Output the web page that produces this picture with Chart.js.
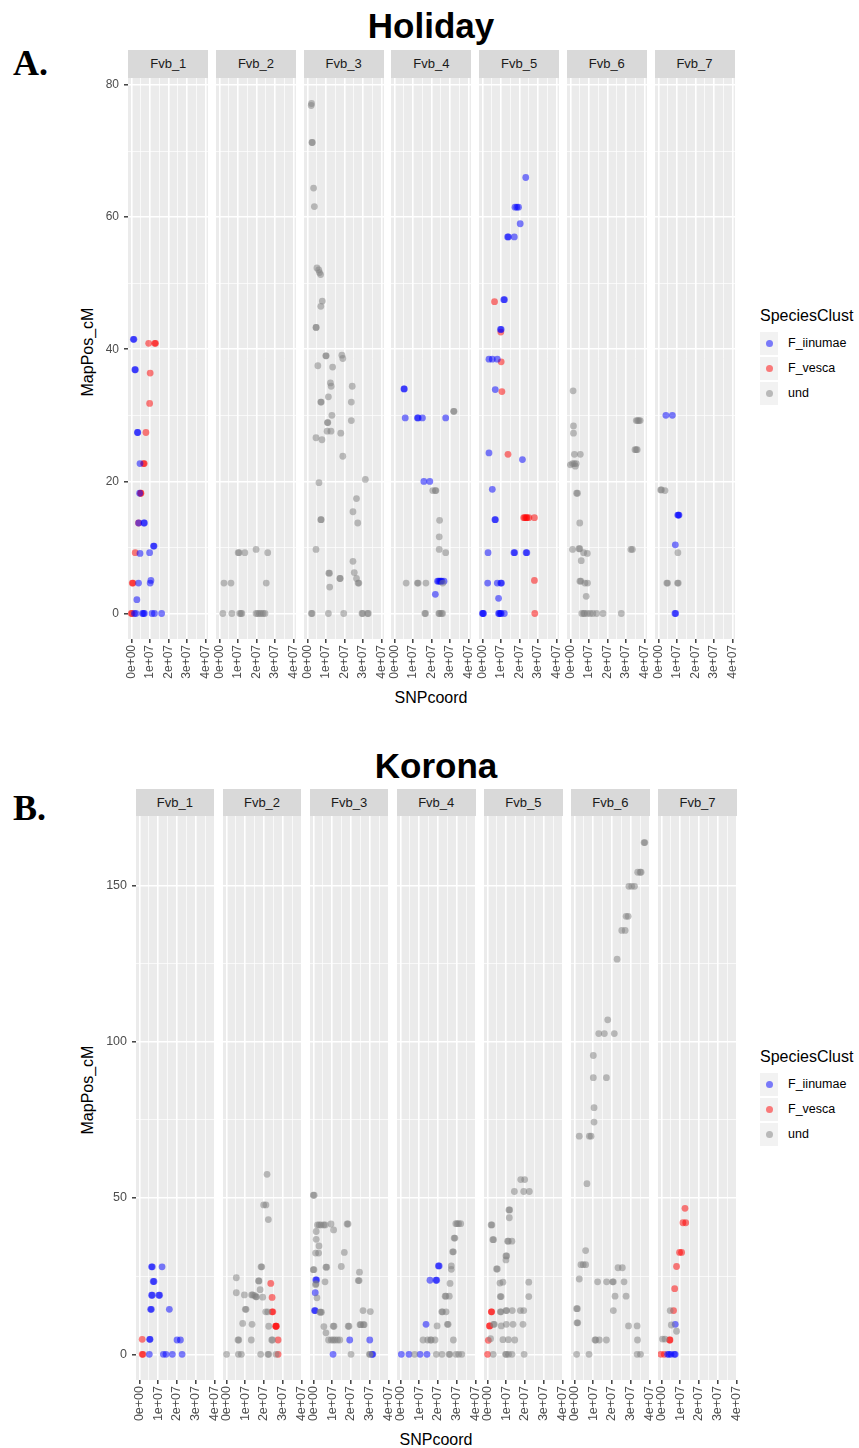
<!DOCTYPE html>
<html>
<head>
<meta charset="utf-8">
<script src="https://cdn.jsdelivr.net/npm/chart.js@4.4.0/dist/chart.umd.min.js"></script>
<style>
  body { margin: 0; background: #fff; width: 859px; height: 1448px; position: relative; overflow: hidden;
         font-family: "Liberation Sans", Arial, sans-serif; }
  canvas { position: absolute; }
  .txt { position: absolute; white-space: nowrap; line-height: 1; }
  .strip { position: absolute; background: #D9D9D9; color: #1A1A1A; font-size: 13px;
           display: flex; align-items: center; justify-content: center; }
  .title { font-weight: bold; font-size: 35px; color: #000; text-align: center; width: 300px; }
  .tag { font-family: "Liberation Serif", "Times New Roman", serif; font-weight: bold; font-size: 36px; }
  .axt { font-size: 16px; color: #000; text-align: center; width: 200px; }
  .key { position: absolute; background: #F2F2F2; width: 18px; height: 23px; }
  .dot { position: absolute; width: 7px; height: 7px; border-radius: 50%; left: 5.5px; top: 8px; }
  .ltxt { font-size: 12.5px; color: #000; }
</style>
</head>
<body>
<script>
const chromosomes = ["Fvb_1", "Fvb_2", "Fvb_3", "Fvb_4", "Fvb_5", "Fvb_6", "Fvb_7"];
const speciesNames = ["F_iinumae", "F_vesca", "und"];
const speciesColors = ["rgba(0,0,255,0.5)", "rgba(255,0,0,0.5)", "rgba(128,128,128,0.5)"];
const xTickValues = [0, 1e7, 2e7, 3e7, 4e7];
const xGridValues = [0, 5e6, 1e7, 1.5e7, 2e7, 2.5e7, 3e7, 3.5e7, 4e7];
const holidayYTicks = [0, 20, 40, 60, 80];
const holidayYGrid = [0, 10, 20, 30, 40, 50, 60, 70, 80];
const koronaYTicks = [0, 50, 100, 150];
const koronaYGrid = [0, 25, 50, 75, 100, 125, 150];

// [chromosome, SNP coordinate in Mb, MapPos_cM]
const holidayIinumae = [
  [1,0.9,41.5],[1,1.2,41.5],[1,1.7,36.9],[1,2.0,36.9],[1,3.1,27.4],[1,3.3,27.4],[1,4.5,22.7],[1,4.3,18.2],
  [1,3.8,13.7],[1,6.6,13.7],[1,6.9,13.7],[1,4.5,9.1],[1,9.7,9.2],[1,11.8,10.2],[1,12.1,10.2],[1,3.7,4.6],
  [1,10.4,5.0],[1,10.0,4.6],[1,2.8,2.1],[1,1.5,0],[1,2.3,0],[1,5.8,0],[1,6.4,0],[1,6.9,0],[1,11.0,0],
  [1,12.3,0],[1,16.2,0],
  [4,5.0,34.0],[4,5.2,34.0],[4,5.7,29.6],[4,12.3,29.6],[4,12.7,29.6],[4,15.0,29.6],[4,27.6,29.6],
  [4,15.8,20.0],[4,19.0,20.0],[4,23.2,4.9],[4,23.8,4.9],[4,24.5,4.9],[4,25.0,4.9],[4,25.5,4.9],[4,26.7,4.9],
  [4,22.0,2.9],
  [5,23.3,66.0],[5,17.5,61.5],[5,18.5,61.5],[5,19.4,61.5],[5,20.3,59.0],[5,13.5,57.0],[5,13.9,57.0],
  [5,17.1,57.0],[5,11.4,47.5],[5,11.8,47.5],[5,9.6,43.0],[5,10.0,43.0],[5,3.4,38.5],[5,5.2,38.5],
  [5,7.9,38.5],[5,6.8,33.9],[5,3.4,24.3],[5,21.5,23.3],[5,5.2,18.8],[5,6.6,14.2],[5,6.9,14.2],[5,2.9,9.2],
  [5,16.9,9.2],[5,17.3,9.2],[5,23.5,9.2],[5,23.9,9.2],[5,2.7,4.6],[5,7.9,4.6],[5,9.8,4.6],[5,10.2,4.6],
  [5,8.6,2.3],[5,-0.2,0],[5,0.2,0],[5,0.4,0],[5,8.6,0],[5,9.0,0],[5,9.6,0],[5,10.0,0],[5,11.7,0],
  [7,3.9,30.0],[7,7.4,30.0],[7,10.3,14.9],[7,10.7,14.9],[7,11.0,14.9],[7,9.0,10.4],[7,8.8,0],[7,9.2,0]
];
const holidayVesca = [
  [1,9.2,40.9],[1,12.5,40.9],[1,12.9,40.9],[1,10.0,36.4],[1,9.7,31.8],[1,7.7,27.4],[1,6.4,22.7],[1,6.8,22.7],
  [1,4.8,18.2],[1,5.0,18.2],[1,3.7,13.7],[1,1.9,9.2],[1,0.7,4.6],[1,0.3,4.6],[1,-0.3,0],[1,0.2,0],
  [5,6.4,47.2],[5,9.8,42.6],[5,10.0,38.1],[5,10.4,33.6],[5,13.7,24.1],[5,22.2,14.5],[5,22.8,14.5],
  [5,23.5,14.5],[5,24.0,14.5],[5,25.0,14.5],[5,28.0,14.5],[5,28.0,5.0],[5,28.2,0]
];
const holidayUnd = [
  [2,10.0,9.2],[2,10.5,9.2],[2,13.6,9.2],[2,19.7,9.7],[2,26.0,9.2],[2,2.3,4.6],[2,6.1,4.6],[2,25.2,4.6],
  [2,1.7,0],[2,6.6,0],[2,10.8,0],[2,11.5,0],[2,12.0,0],[2,19.7,0],[2,20.5,0],[2,21.5,0],[2,22.5,0],
  [2,23.5,0],[2,24.5,0],
  [3,1.9,76.9],[3,2.1,77.2],[3,2.3,71.3],[3,2.5,71.3],[3,3.2,64.4],[3,3.6,61.6],[3,5.0,52.3],[3,6.0,52.0],
  [3,6.4,51.6],[3,7.0,51.3],[3,7.9,47.3],[3,7.1,46.5],[3,4.5,43.3],[3,4.6,43.3],[3,9.8,39.0],[3,10.0,39.0],
  [3,18.5,39.1],[3,19.0,38.6],[3,5.5,37.5],[3,13.5,37.3],[3,12.3,34.9],[3,12.7,34.4],[3,24.1,34.4],
  [3,11.2,32.8],[3,7.1,32.0],[3,7.3,32.0],[3,23.6,32.0],[3,13.1,30.0],[3,10.7,28.9],[3,10.9,28.9],
  [3,23.6,29.2],[3,10.5,27.6],[3,12.6,27.6],[3,17.9,27.3],[3,4.5,26.6],[3,7.7,26.3],[3,19.0,23.8],
  [3,6.1,19.8],[3,31.2,20.3],[3,26.4,17.4],[3,24.5,15.4],[3,27.1,13.7],[3,7.1,14.2],[3,7.3,14.2],
  [3,4.5,9.7],[3,24.5,7.9],[3,11.4,6.1],[3,11.8,6.1],[3,25.2,6.2],[3,17.4,5.3],[3,17.6,5.3],[3,26.4,5.3],
  [3,27.3,4.6],[3,27.7,4.6],[3,11.9,4.0],[3,2.0,0],[3,2.4,0],[3,11.2,0],[3,19.5,0],[3,29.4,0],[3,29.8,0],
  [3,32.4,0],[3,32.8,0],
  [4,31.9,30.6],[4,32.1,30.6],[4,20.6,18.6],[4,22.0,18.6],[4,22.3,18.6],[4,24.3,14.1],[4,24.1,11.6],
  [4,24.1,9.7],[4,27.6,9.2],[4,6.2,4.6],[4,12.3,4.6],[4,12.7,4.6],[4,16.9,4.6],[4,26.0,4.6],[4,16.3,0],
  [4,16.7,0],[4,23.9,0],[4,24.3,0],[4,25.3,0],[4,25.9,0],
  [6,1.3,33.7],[6,35.5,29.2],[6,36.2,29.2],[6,36.9,29.2],[6,37.6,29.2],[6,1.5,28.4],[6,1.5,27.3],
  [6,34.8,24.8],[6,35.4,24.8],[6,36.0,24.8],[6,2.0,24.1],[6,5.2,24.1],[6,-0.2,22.5],[6,1.0,22.7],
  [6,2.0,22.7],[6,2.5,22.3],[6,3.0,22.7],[6,3.2,18.2],[6,3.7,18.2],[6,4.9,13.7],[6,1.0,9.7],[6,4.5,9.8],
  [6,4.9,9.8],[6,7.0,9.2],[6,9.0,9.1],[6,5.7,8.0],[6,32.6,9.7],[6,33.4,9.7],[6,5.0,4.9],[6,5.5,4.9],
  [6,7.7,4.6],[6,9.1,4.6],[6,8.4,2.6],[6,6.0,0],[6,7.0,0],[6,7.5,0],[6,9.0,0],[6,10.5,0],[6,12.0,0],
  [6,14.0,0],[6,17.5,0],[6,27.4,0],
  [7,1.1,18.7],[7,1.5,18.7],[7,3.4,18.6],[7,10.4,9.2],[7,4.4,4.6],[7,4.8,4.6],[7,10.2,4.6],[7,10.6,4.6]
];

const koronaIinumae = [
  [1,5.4,4.8],[1,5.6,4.8],[1,5.2,0],[1,6.4,28.0],[1,6.8,28.0],[1,12.0,28.0],[1,7.3,23.3],[1,7.7,23.3],
  [1,6.4,18.9],[1,6.8,18.9],[1,10.3,18.9],[1,10.7,18.9],[1,5.9,14.4],[1,6.3,14.4],[1,15.9,14.4],
  [1,20.0,4.6],[1,21.8,4.6],[1,12.7,0],[1,14.1,0],[1,17.5,0],[1,22.7,0],
  [3,1.2,23.8],[3,1.6,23.8],[3,0.9,19.7],[3,0.5,14.0],[3,0.9,14.0],[3,19.3,4.6],[3,30.0,4.6],[3,10.4,0],
  [3,31.2,0],[3,31.6,0],
  [4,0.4,0],[4,4.5,0],[4,10.4,0],[4,14.1,0],[4,13.6,9.6],[4,15.7,23.7],[4,18.9,23.7],[4,19.3,23.7],
  [4,20.2,28.3],[4,20.6,28.3],
  [7,7.3,9.6],[7,3.2,0],[7,4.0,0],[7,5.0,0],[7,6.8,0],[7,7.3,0]
];
const koronaVesca = [
  [1,1.4,4.8],[1,1.4,0],[1,1.8,0],
  [2,23.6,22.7],[2,24.3,18.2],[2,24.3,13.6],[2,24.7,13.6],[2,26.2,9.0],[2,26.6,9.0],[2,26.4,9.0],
  [2,27.5,4.6],[2,27.5,0],
  [5,0.0,0],[5,0.4,4.5],[5,1.0,9.1],[5,1.2,9.1],[5,2.0,13.6],[5,2.2,13.6],
  [7,12.5,46.7],[7,11.4,42.1],[7,12.9,42.1],[7,9.6,32.6],[7,10.7,32.6],[7,8.0,28.1],[7,7.0,21.0],
  [7,6.4,14.0],[7,4.3,4.6],[7,4.5,4.6],[7,-0.4,0],[7,1.4,0]
];
const koronaUnd = [
  [2,21.6,57.6],[2,19.8,47.8],[2,21.0,47.8],[2,22.3,43.1],[2,18.4,28.0],[2,18.8,28.0],[2,5.2,24.5],
  [2,17.1,23.5],[2,17.3,23.5],[2,17.9,20.7],[2,5.2,19.7],[2,9.5,19.0],[2,13.4,19.0],[2,14.0,19.0],
  [2,15.0,18.8],[2,15.6,18.4],[2,16.0,18.4],[2,19.3,18.3],[2,10.0,14.4],[2,10.4,14.4],[2,20.9,13.6],
  [2,22.0,13.6],[2,8.6,9.9],[2,13.6,9.6],[2,22.5,9.0],[2,6.1,4.6],[2,6.5,4.6],[2,13.2,4.6],[2,24.1,4.6],
  [2,24.5,4.6],[2,0.0,0],[2,6.3,0],[2,7.9,0],[2,18.2,0],[2,22.1,0],[2,22.5,0],[2,26.4,0],
  [3,-0.2,50.9],[3,0.3,50.9],[3,2.1,41.4],[3,3.0,41.4],[3,4.0,41.4],[3,5.4,41.4],[3,6.2,41.4],[3,9.3,41.7],
  [3,10.7,39.8],[3,17.9,41.7],[3,18.4,41.7],[3,1.4,39.3],[3,1.4,36.8],[3,2.9,34.7],[3,1.1,32.4],
  [3,2.7,32.4],[3,16.4,32.6],[3,14.8,28.1],[3,6.6,27.9],[3,7.0,27.9],[3,-0.2,27.1],[3,0.2,27.1],
  [3,24.5,26.3],[3,23.9,23.6],[3,24.3,23.6],[3,1.1,22.3],[3,1.3,22.6],[3,6.1,23.2],[3,1.8,18.1],
  [3,3.4,13.5],[3,3.8,13.5],[3,4.2,13.5],[3,26.4,14.0],[3,30.3,13.7],[3,24.8,9.5],[3,25.2,9.5],
  [3,26.6,9.5],[3,27.0,9.5],[3,5.5,8.9],[3,10.5,9.0],[3,10.9,9.0],[3,18.5,9.0],[3,18.9,9.0],[3,6.6,6.9],
  [3,8.0,4.6],[3,9.5,4.6],[3,10.5,4.6],[3,11.5,4.6],[3,12.8,4.6],[3,14.0,4.6],[3,20.0,0],[3,29.8,0],
  [3,30.2,0],
  [4,7.5,0],[4,19.1,0],[4,22.1,0],[4,25.9,0],[4,26.3,0],[4,29.6,0],[4,31.0,0],[4,32.7,0],[4,12.0,4.6],
  [4,14.5,4.6],[4,16.0,4.6],[4,16.4,4.6],[4,18.4,4.6],[4,28.2,4.6],[4,19.5,9.1],[4,25.0,9.6],[4,25.4,9.6],
  [4,22.0,13.6],[4,22.4,13.6],[4,24.3,13.6],[4,23.8,18.6],[4,24.2,18.6],[4,26.0,18.6],[4,26.4,22.7],
  [4,27.1,28.3],[4,27.1,27.2],[4,27.8,32.8],[4,28.2,32.8],[4,28.6,37.2],[4,29.0,37.2],[4,29.5,41.8],
  [4,30.2,41.8],[4,31.0,41.8],[4,32.1,41.8],
  [5,3.0,0],[5,9.6,0],[5,10.0,0],[5,11.2,0],[5,13.0,0],[5,19.5,0],[5,1.6,5.0],[5,8.2,4.7],[5,11.1,4.7],
  [5,14.5,4.6],[5,3.2,9.6],[5,3.6,9.6],[5,7.3,9.1],[5,10.0,9.6],[5,13.6,9.6],[5,18.9,9.6],[5,6.8,13.6],
  [5,7.2,13.6],[5,9.8,14.0],[5,10.2,14.0],[5,13.2,14.0],[5,17.5,14.0],[5,19.3,14.0],[5,22.0,18.5],
  [5,6.8,18.5],[5,7.2,18.5],[5,6.6,22.8],[5,8.2,23.1],[5,22.0,23.1],[5,4.8,27.3],[5,5.2,27.3],[5,9.8,31.5],
  [5,10.2,31.5],[5,9.8,30.2],[5,10.7,36.2],[5,11.1,36.2],[5,13.0,36.2],[5,2.8,36.7],[5,3.2,36.7],
  [5,1.9,41.4],[5,2.3,41.4],[5,11.6,43.7],[5,11.4,46.2],[5,11.8,46.2],[5,14.3,52.1],[5,19.3,52.1],
  [5,22.3,52.1],[5,17.7,55.9],[5,19.8,55.9],
  [6,37.1,163.7],[6,37.5,163.7],[6,33.7,154.2],[6,35.0,154.2],[6,35.5,154.2],[6,29.0,149.7],[6,30.5,149.7],
  [6,32.0,149.7],[6,27.5,140.1],[6,28.6,140.1],[6,25.2,135.6],[6,27.0,135.6],[6,22.7,126.4],[6,17.7,107.0],
  [6,12.9,102.6],[6,15.9,102.6],[6,21.2,102.6],[6,10.0,95.6],[6,10.0,88.5],[6,17.0,88.5],[6,10.4,78.9],
  [6,10.4,74.3],[6,2.5,69.8],[6,7.9,69.8],[6,8.8,69.8],[6,6.6,54.6],[6,5.9,33.2],[6,3.4,28.7],[6,4.6,28.7],
  [6,5.9,28.7],[6,2.5,24.1],[6,12.3,23.2],[6,17.1,23.2],[6,20.3,23.2],[6,20.7,23.2],[6,26.4,23.2],
  [6,23.2,27.7],[6,25.5,27.7],[6,21.6,18.6],[6,27.5,18.6],[6,20.7,14.0],[6,1.1,14.6],[6,1.5,14.6],
  [6,1.3,10.1],[6,1.7,10.1],[6,28.8,9.1],[6,33.4,9.1],[6,10.9,4.6],[6,11.3,4.6],[6,13.2,4.6],[6,17.0,4.6],
  [6,33.6,4.6],[6,1.1,0],[6,7.7,0],[6,33.4,0],[6,35.2,0],
  [7,4.6,14.0],[7,5.2,9.4],[7,8.0,7.4],[7,0.5,4.9],[7,1.8,4.9]
];

const FONT = '"Liberation Sans", Arial, sans-serif';

const plots = [
  { title: "Holiday", tag: "A.", iin: holidayIinumae, ves: holidayVesca, und: holidayUnd,
    yTicks: holidayYTicks, yGrid: holidayYGrid, yMin: -3.86, yMax: 81.06, xMin: -2.0e6, xMax: 4.13e7,
    left: 128.3, spacing: 87.7, w: 80, top: 77.7, h: 561.4, stripTop: 50, stripH: 27.7, yAxisW: 30,
    tickFont: 12, titleY: 8.4, tagY: 45, xTitleY: 690, yTitleY: 352, legendY: 308 },
  { title: "Korona", tag: "B.", iin: koronaIinumae, ves: koronaVesca, und: koronaUnd,
    yTicks: koronaYTicks, yGrid: koronaYGrid, yMin: -8.2, yMax: 172.2, xMin: -1.9e6, xMax: 4.01e7,
    left: 135.6, spacing: 87.1, w: 78.7, top: 816, h: 564, stripTop: 789.3, stripH: 26.7, yAxisW: 36,
    tickFont: 12.5, titleY: 747.5, tagY: 790, xTitleY: 1432, yTitleY: 1090, legendY: 1049 }
];

function sci(v) {
  if (v === 0) return "0e+00";
  const e = Math.floor(Math.log10(v) + 1e-9);
  const m = Math.round(v / Math.pow(10, e));
  return m + "e+" + (e < 10 ? "0" : "") + e;
}

const panelBg = {
  id: "panelBg",
  beforeDraw(chart) {
    const { ctx, chartArea: a } = chart;
    ctx.save();
    ctx.fillStyle = "#EBEBEB";
    ctx.fillRect(a.left, a.top, a.right - a.left, a.bottom - a.top);
    ctx.restore();
  }
};

function addText(cls, text, left, top, extra) {
  const d = document.createElement("div");
  d.className = "txt " + cls;
  d.textContent = text;
  d.style.left = left + "px";
  d.style.top = top + "px";
  if (extra) Object.assign(d.style, extra);
  document.body.appendChild(d);
  return d;
}

const PAD_T = 10, PAD_R = 10, PAD_L = 10, AXIS_H = 60;

plots.forEach(p => {
  const cx = p.left + (6 * p.spacing + p.w) / 2;
  addText("title", p.title, Math.round(cx - 150), p.titleY);
  addText("tag", p.tag, 13, p.tagY);
  addText("axt", "SNPcoord", Math.round(cx - 100), p.xTitleY);
  addText("axt", "MapPos_cM", 88 - 100, p.yTitleY - 8, { transform: "rotate(-90deg)" });

  chromosomes.forEach((name, k) => {
    const px = p.left + k * p.spacing;
    const s = document.createElement("div");
    s.className = "strip";
    s.textContent = name;
    Object.assign(s.style, { left: px + "px", top: p.stripTop + "px", width: p.w + "px", height: p.stripH + "px" });
    document.body.appendChild(s);

    const padL = k === 0 ? p.yAxisW : PAD_L;
    const cv = document.createElement("canvas");
    const cw = Math.round(padL + p.w + PAD_R);
    const ch = Math.round(PAD_T + p.h + AXIS_H);
    cv.width = cw; cv.height = ch;
    cv.style.width = cw + "px"; cv.style.height = ch + "px";
    cv.style.left = Math.round(px - padL) + "px";
    cv.style.top = Math.round(p.top - PAD_T) + "px";
    document.body.appendChild(cv);

    const sets = [[p.und, 2], [p.iin, 0], [p.ves, 1]].map(([arr, si]) => ({
      label: speciesNames[si],
      data: arr.filter(d => d[0] === k + 1).map(d => ({ x: d[1] * 1e6, y: d[2] })),
      backgroundColor: speciesColors[si],
      borderWidth: 0,
      pointRadius: 3.4
    }));

    new Chart(cv, {
      type: "scatter",
      data: { datasets: sets },
      options: {
        responsive: false,
        animation: false,
        devicePixelRatio: 1,
        events: [],
        layout: { padding: { left: k === 0 ? 0 : PAD_L, right: cw - padL - p.w, top: PAD_T, bottom: 0 } },
        plugins: { legend: { display: false }, tooltip: { enabled: false } },
        scales: {
          x: {
            type: "linear", min: p.xMin, max: p.xMax,
            afterBuildTicks: sc => { sc.ticks = xGridValues.map(v => ({ value: v })); },
            afterFit: sc => { sc.height = AXIS_H; sc.paddingLeft = 0; sc.paddingRight = 0; },
            border: { display: false },
            grid: {
              color: "#FFFFFF",
              lineWidth: c => xTickValues.includes(c.tick.value) ? 1.6 : 0.7,
              drawTicks: true, tickLength: 4, tickWidth: 1.4,
              tickColor: c => xTickValues.includes(c.tick.value) ? "#333333" : "rgba(0,0,0,0)"
            },
            ticks: {
              autoSkip: false, minRotation: 90, maxRotation: 90, padding: 2,
              color: "#4D4D4D", font: { family: FONT, size: p.tickFont },
              callback: v => xTickValues.includes(v) ? sci(v) : ""
            }
          },
          y: {
            type: "linear", min: p.yMin, max: p.yMax,
            afterBuildTicks: sc => { sc.ticks = p.yGrid.map(v => ({ value: v })); },
            afterFit: sc => {
              sc.width = k === 0 ? p.yAxisW : 0;
              sc.paddingTop = 0; sc.paddingBottom = 0;
            },
            border: { display: false },
            grid: {
              color: "#FFFFFF",
              lineWidth: c => p.yTicks.includes(c.tick.value) ? 1.6 : 0.7,
              drawTicks: k === 0, tickLength: 4, tickWidth: 1.4,
              tickColor: c => p.yTicks.includes(c.tick.value) ? "#333333" : "rgba(0,0,0,0)"
            },
            ticks: {
              display: k === 0, padding: 5,
              color: "#4D4D4D", font: { family: FONT, size: p.tickFont },
              callback: v => p.yTicks.includes(v) ? String(v) : ""
            }
          }
        }
      },
      plugins: [panelBg]
    });
  });

  // legend
  addText("axt", "SpeciesClust", 760, p.legendY, { width: "auto", textAlign: "left" });
  speciesNames.forEach((name, i) => {
    const top = p.legendY + 23.5 + i * 25;
    const key = document.createElement("div");
    key.className = "key";
    key.style.left = "760px";
    key.style.top = top + "px";
    const dot = document.createElement("div");
    dot.className = "dot";
    dot.style.background = speciesColors[i];
    key.appendChild(dot);
    document.body.appendChild(key);
    addText("ltxt", name, 788, top + 5.5);
  });
});
</script>
</body>
</html>
